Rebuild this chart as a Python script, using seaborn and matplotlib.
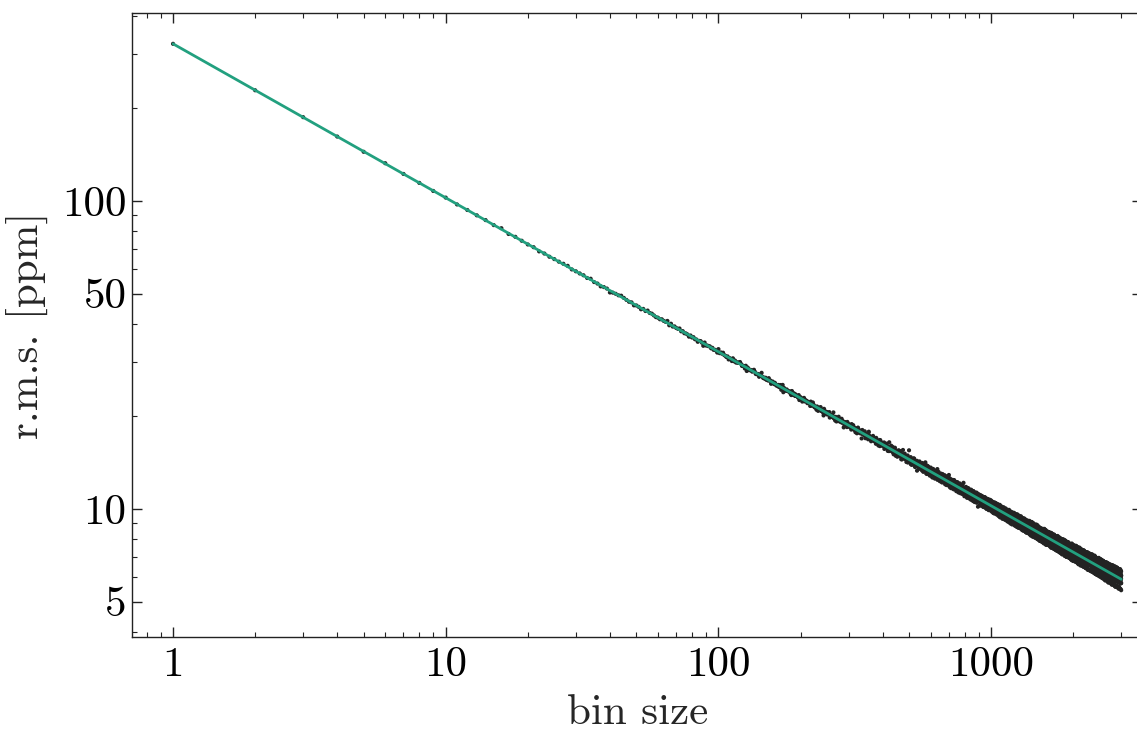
import numpy as np
import pandas as pd
import matplotlib
matplotlib.use("Agg")
import matplotlib.pyplot as plt
import seaborn as sns
from matplotlib.ticker import FixedLocator, LogLocator, NullFormatter, FuncFormatter

# r.m.s. of the unbinned residuals (ppm)
RMS_1BIN = 324.0

# per-bin scatter of the binned r.m.s. about the white-noise curve,
# coded 0..8 (4 = on the curve), one code per bin size 1, 2, 3, ...;
# the following code is read as the fractional digit
SCATTER_CODES = """
4354264435 3445372543 5243445634 4536342451 3446543524 4253645434 3544726354 4635344253 5342454163 4453534427
3546443524 4263534456 5344261543 4435653344 2547434353 4364524543 5434353462 3715443544 4453264355 3544436245
4425363544 5344452634 3654343425 4243556344 5316444535 3454624443 4537343254 2445365434 4363544152 5434426354
3544352644 4635434253 5243645435 3454136445 4356424354 5442673543 3525443464 4354534263 5443425346 2634455344
4453625434 3546344253 4275443546 5344634325 3436542454 4524354634 5343464235 2454743543 4635345424 3446253548
5344436253 4253545463 3645424354 4436153545 5243464354 3554435264 4362454533 5437344246 4245636345 3544524436
4535346242 3464435534 5243546354 4354725344 3645434255 4453263544 2546435354 5334644253 4463525434 3545344627
3445632454 4536245343 5344536425 2654344535 4435246354 5364435243 3452546434 4625343545 5343264454 4734535234
4253545364 5434623545 3546434254 4443625353 5324645434 3455342463 4636245354 5243534445 3564425434 4345163545
5443546234 3635424545 4254635344 5346243454 3452546435 4634345253 5245436344 3463545424 4534264355 2645343546
4346254535 5434632445 3545243464 4253546354 5464334253 3544526443 4635243545 5343465234 2454634355 4536344252
3545463244 4264535434 5436244353 3645453254 4353624545 5244536343 3465245454 4536344235 5345263454 4623545344
5344352646 3536444253 4245635345 5463424354 3544365244 4635253445 2454643535 5346344253 4435265434 3543546245
4635243545 5243546344 3464425353 4545363244 5344624535 3245463454 4536344253 5443526345 3654245434 4345634552
3544265434 4653445253 5235434646 4453625344 3546244535 5344635243 4265435454 3534654245 4453246353 5634435244
4453546235 3624544354 5346243545 4535362444 3245635453 5463544235 4354426543 3645345254 5234464354 4546235345
5343624545 4455263434 3546345253 4263545454 5435244636 3546453425 4235364544 5463425353 3544636244 4354254546
3645245343 5434536254 4353624545 5245463434 3536245454 4465343525 5354624344 3546435254 4635244535 5243546354
4354635245 3546244354 5235463544 4643525345 3454264535 5346435244 4235546353 3564245454 5443635234 4356244535
5246345354 4535264443 3454635245 5343546254 4625344535 3546243454 5354624443 4235465354 3645354244 5454236345
4536245343 3645435254 5245634454 4354526345 3546244653 5433645254 4264535345 3545634244 5364245453 4235546354
3454265435 5243645344 4635354252 3546424545 5345263454 4254635343 3563545244 5434246355 4645353244 3256445435
5344625354 4536245443 3245546354 5463534245 4354263545 3645445253 5234564354 4453634245 3546254453 5245364435
4635244535 3546354254 5243645434 4354526345 3465245454 5346344253 4253636454 3544526345 5635244354 4246535443
3545264354 5634435245 4246353544 3554624345 5343546254 4635244535 3254636454 5443526345 4365245354 3546344254
5243646354 4354525443 3645354264 5246435345 4534264553 3456345244 5345624354 4263546435 3544635254 5354246345
4635354245 3546244535 5234635454 4453526345 3645264354 5346345244 4254636453 3545426354 5463544235 4235636454
3546245354 5354634245 4263545453 3645354254 5244636345 4535264354 3464545235 5236354454 4543625345 3654245443
5345264535 4634535244 3546254354 5253645345 4465234554 3546453245 5234635454 4364525343 3545264655 5436345244
4253645354 3645254535 5364345244 4235646354 3554526345 5436245453 4245363545 3654524354 5346245443 4563546235
"""

X_TICKS = [1, 10, 100, 1000]
Y_TICKS = [5, 10, 50, 100]

digits = np.array([int(c) for c in "".join(SCATTER_CODES.split())], dtype=float)
codes = digits + np.roll(digits, -1) / 9.0          # e.g. "4", "3" -> 4.33
bins = np.arange(1, len(codes) + 1)

# expected white-noise r.m.s. for each bin size
rms_white = RMS_1BIN / np.sqrt(bins)
# fractional spread of the binned r.m.s. grows with bin size;
# codes far from the centre are stretched into sparse outliers
spread = 3.6e-3 * np.sqrt(bins)
u = (codes - 4.5) / 4.5
rms_measured = rms_white * (1.0 + np.sign(u) * np.abs(u) ** 1.25 * spread)

df = pd.DataFrame({"bin": bins, "rms": rms_measured})
model = pd.DataFrame({"bin": bins, "rms": rms_white})

sns.set_theme(style="ticks")
plt.rcParams.update({
    "font.family": "serif",
    "font.serif": ["cmr10"],
    "mathtext.fontset": "cm",
    "axes.formatter.use_mathtext": True,
    "axes.unicode_minus": False,
    "axes.linewidth": 1.0,
    "axes.edgecolor": "#222222",
})

W, H = 1137, 744
fig = plt.figure(figsize=(W / 100, H / 100), dpi=100)
left, right, top, bottom = 132.3, 1142.0, 13.3, 636.7
ax = fig.add_axes([left / W, 1 - bottom / H, (right - left) / W, (bottom - top) / H])

sns.scatterplot(data=df, x="bin", y="rms", s=9, color="#232323",
                edgecolor="none", linewidth=0, ax=ax, legend=False, zorder=2)
sns.lineplot(data=model, x="bin", y="rms", color="#22a07f", linewidth=2.0,
             ax=ax, legend=False, zorder=3)

ax.set_xscale("log")
ax.set_yscale("log")
ax.set_xlim(0.709, 3575)
ax.set_ylim(3.85, 407)

fmt = FuncFormatter(lambda v, p: f"{v:g}")
ax.xaxis.set_major_locator(FixedLocator(X_TICKS))
ax.xaxis.set_major_formatter(fmt)
ax.xaxis.set_minor_locator(LogLocator(base=10, subs=np.arange(2, 10), numticks=100))
ax.xaxis.set_minor_formatter(NullFormatter())
ax.yaxis.set_major_locator(FixedLocator(Y_TICKS))
ax.yaxis.set_major_formatter(fmt)
ax.yaxis.set_minor_locator(LogLocator(base=10, subs=np.arange(1, 10), numticks=100))
ax.yaxis.set_minor_formatter(NullFormatter())

ax.tick_params(which="both", direction="in", top=True, right=True,
               colors="#222222", labelcolor="black")
ax.tick_params(which="major", length=7.2, width=1.0, labelsize=31, pad=7)
ax.tick_params(which="minor", length=3.6, width=0.8)
ax.tick_params(axis="y", which="major", pad=4)

ax.set_xlabel("bin size", fontsize=31, labelpad=8)
ax.set_ylabel("r.m.s. [ppm]", fontsize=31, labelpad=10)

fig.savefig("out.png", dpi=100)
